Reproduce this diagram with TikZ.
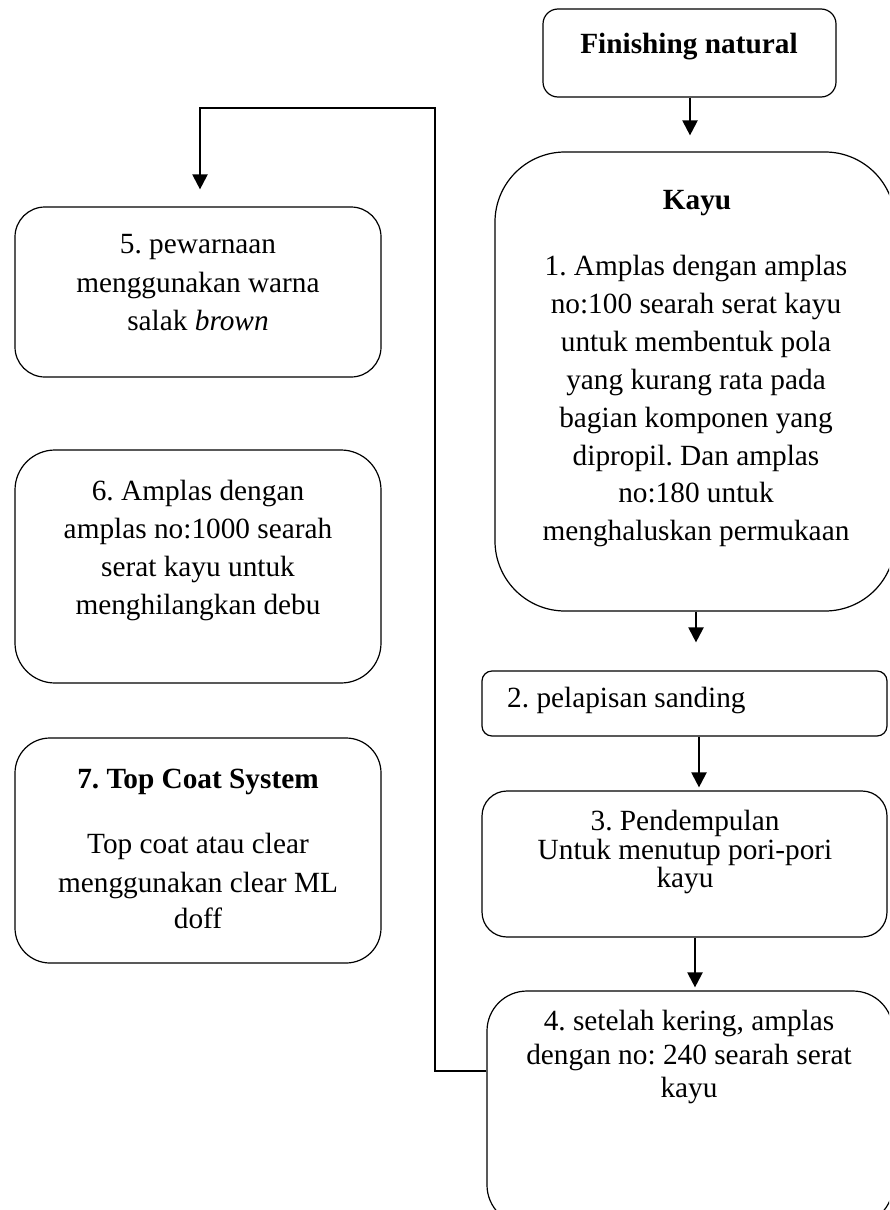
\documentclass[tikz,border=0pt]{standalone}
\usepackage{fontspec}
\setmainfont{Liberation Serif}
\usetikzlibrary{arrows.meta}
\frenchspacing

\tikzset{
  box/.style={draw, line width=1.2pt, inner sep=0pt},
  txt/.style={anchor=base, inner sep=0pt, font=\fontsize{29.3}{35}\selectfont},
  arr/.style={line width=2.2pt, -{Triangle[width=15pt,length=15pt]}},
}

\begin{document}
\begin{tikzpicture}[x=1pt,y=-1pt]
        \useasboundingbox (0,0) rectangle (889,1210);
        \clip (0,0) rectangle (889,1210);

        % Boxes
        \node[box, rounded corners=15pt, minimum width=293pt, minimum height=88pt] (fin) at (689.5,53) {};
        \node[box, rounded corners=70pt, minimum width=400pt, minimum height=459pt] (kayu) at (695,381.5) {};
        \node[box, rounded corners=10pt, minimum width=405pt, minimum height=65pt] (b2) at (684.5,703.5) {};
        \node[box, rounded corners=25pt, minimum width=405pt, minimum height=146pt] (b3) at (684.5,864) {};
        \node[box, rounded corners=40pt, minimum width=406pt, minimum height=234pt] (b4) at (690,1108) {};
        \node[box, rounded corners=30pt, minimum width=366pt, minimum height=170pt] (b5) at (198,292) {};
        \node[box, rounded corners=40pt, minimum width=366pt, minimum height=233pt] (b6) at (198,566.5) {};
        \node[box, rounded corners=35pt, minimum width=366pt, minimum height=225pt] (b7) at (198,850.5) {};

        % Texts
        \node[txt, font=\fontsize{29.3}{35}\selectfont\bfseries] (fin-t) at (689,53) {Finishing natural};
        \node[txt, font=\fontsize{29.3}{35}\selectfont\bfseries] (kayu-t) at (697,209) {Kayu};
        \foreach \y/\t in {275/{1. Amplas dengan amplas}, 313/{no:100 searah serat kayu},
                           351/{untuk membentuk pola}, 389/{yang kurang rata pada},
                           427/{bagian komponen yang}, 465/{dipropil. Dan amplas},
                           502/{no:180 untuk}, 540/{menghaluskan permukaan}} {
            \node[txt] (kayu-\y) at (696,\y) {\t};
        }
        \node[txt, anchor=base west] (b2-t) at (507,707) {2. pelapisan sanding};
        \foreach \y/\t in {830/{3. Pendempulan}, 859/{Untuk menutup pori-pori}, 887/{kayu}} {
            \node[txt] (b3-\y) at (685,\y) {\t};
        }
        \foreach \y/\t in {1030/{4. setelah kering, amplas}, 1064/{dengan no: 240 searah serat}, 1097/{kayu}} {
            \node[txt] (b4-\y) at (689,\y) {\t};
        }
        \foreach \y/\t in {253/{5. pewarnaan}, 292/{menggunakan warna}, 330/{salak \textit{brown}}} {
            \node[txt] (b5-\y) at (198,\y) {\t};
        }
        \foreach \y/\t in {500/{6. Amplas dengan}, 538/{amplas no:1000 searah}, 576/{serat kayu untuk}, 614/{menghilangkan debu}} {
            \node[txt] (b6-\y) at (198,\y) {\t};
        }
        \node[txt, font=\fontsize{29.3}{35}\selectfont\bfseries] (b7-t) at (198,788) {7. Top Coat System};
        \foreach \y/\t in {853/{Top coat atau clear}, 892/{menggunakan clear ML}, 928/{doff}} {
            \node[txt] (b7-\y) at (198,\y) {\t};
        }

        % Arrows
        \foreach \u/\v/\x/\s in {fin/kayu/690/16, kayu/b2/696/28, b2/b3/699/3, b3/b4/695/3} {
            \coordinate (ax) at (\x,0);
            \draw[arr, shorten >=\s pt] (\u.south -| ax) -- (\v.north -| ax);
        }

        \coordinate (fb) at (435,1071);
        \coordinate (drop) at (200,108);
        \draw[arr, shorten >=17pt] (fb -| b4.west) -- (fb) |- (drop) -- (drop |- b5.north);
    \end{tikzpicture}
\end{document}
